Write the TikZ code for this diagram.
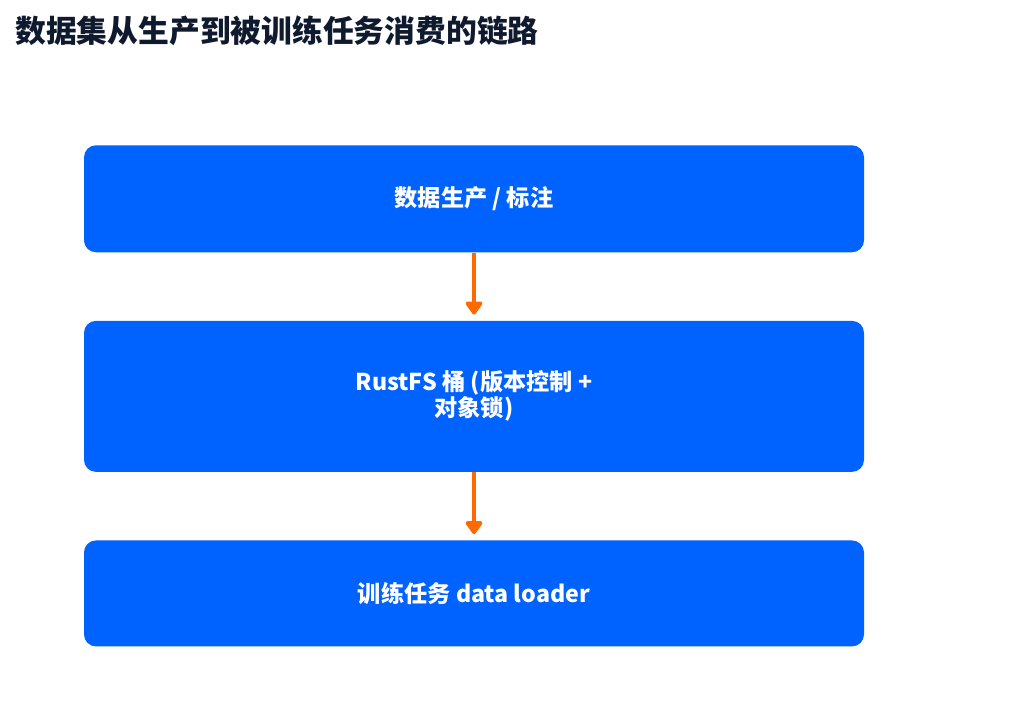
\documentclass[tikz,border=0pt]{standalone}
\usepackage{fontspec}
\usepackage{tikz}
\usetikzlibrary{positioning,arrows.meta}
\newfontfamily\cjk{Noto Sans CJK SC}
\definecolor{boxblue}{HTML}{0062FF}
\definecolor{arrorange}{HTML}{FF6A00}
\definecolor{titlenavy}{HTML}{0F1A2E}

\begin{document}
\begin{tikzpicture}[
    stage/.style={fill=boxblue, rounded corners=0.3cm, minimum width=19.5cm,
      text=white, align=center, font=\cjk\bfseries\fontsize{16.5pt}{18.5pt}\selectfont},
    flow/.style={draw=arrorange, line width=0.115cm, shorten >=0.15cm,
      -{Triangle[width=0.48cm,length=0.36cm,round]}},
    node distance=1.7cm
  ]
    \useasboundingbox (0,0) rectangle (25.875,-17.775);
    \node[anchor=base west, inner sep=0, text=titlenavy,
      font=\cjk\bfseries\fontsize{21.9pt}{24pt}\selectfont] (title) at (0.375,-1.05)
      {数据集从生产到被训练任务消费的链路};
    \node[stage, minimum height=2.675cm, anchor=north] (produce) at (11.85,-3.625) {数据生产 / 标注};
    \node[stage, minimum height=3.775cm, below=of produce] (bucket) {RustFS 桶 (版本控制 +\\对象锁)};
    \node[stage, minimum height=2.65cm, below=of bucket] (loader) {训练任务 data loader};
    \draw[flow] (produce) -- (bucket);
    \draw[flow] (bucket) -- (loader);
  \end{tikzpicture}
\end{document}
